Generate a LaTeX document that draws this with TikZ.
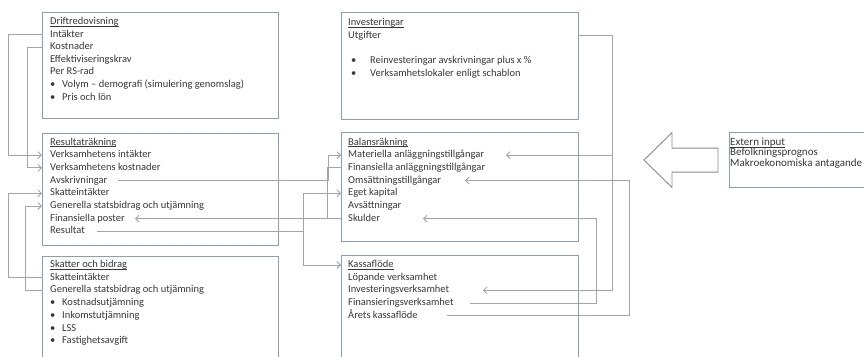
\documentclass[tikz,border=0pt]{standalone}
\usepackage{fontspec}
\setmainfont{Carlito}
\usetikzlibrary{arrows.meta}
\definecolor{boxblue}{RGB}{137,157,190}
\definecolor{linegray}{RGB}{165,165,165}
\definecolor{txtgray}{RGB}{55,55,55}
\definecolor{arrowgray}{RGB}{140,140,140}
\newcommand{\ulbox}[1]{\setbox0=\hbox{#1}\rlap{\rule[-1.8pt]{\wd0}{0.5pt}}\box0}
\def\leftlines{{22/dtit/\ulbox{Driftredovisning}}, 34.5/dint/Intäkter, 47.1/dkost/Kostnader,
  59.7/deff/Effektiviseringskrav, 72.3/drs/Per RS-rad,
  {142.5/rtit/\ulbox{Resultaträkning}}, 155.2/rvi/Verksamhetens intäkter,
  167.9/rvk/Verksamhetens kostnader, 180.6/ravs/Avskrivningar, 193.3/rskatt/Skatteintäkter,
  206/rgen/Generella statsbidrag och utjämning, 218.7/rfin/Finansiella poster, 231.4/rres/Resultat,
  {265/stit/\ulbox{Skatter och bidrag}}, 277.7/sskatt/Skatteintäkter,
  290.4/sgen/Generella statsbidrag och utjämning}
\def\leftitems{84.9/dvol/Volym – demografi (simulering genomslag), 97.5/dpris/Pris och lön,
  303.1/skost/Kostnadsutjämning, 315.8/sink/Inkomstutjämning, 328.5/slss/LSS, 341.2/sfast/Fastighetsavgift}
\def\midlines{{23/itit/\ulbox{Investeringar}}, 35.7/iutg/Utgifter,
  {142.5/btit/\ulbox{Balansräkning}}, 155.2/bmat/Materiella anläggningstillgångar,
  167.9/bfin/Finansiella anläggningstillgångar, 180.6/boms/Omsättningstillgångar,
  193.3/beget/Eget kapital, 206/bavs/Avsättningar, 218.7/bsku/Skulder,
  {265/ktit/\ulbox{Kassaflöde}}, 277.7/klop/Löpande verksamhet, 290.4/kinv/Investeringsverksamhet,
  303.1/kfin/Finansieringsverksamhet, 315.8/kar/Årets kassaflöde}
\def\miditems{61.1/irei/Reinvesteringar avskrivningar plus x \%, 73.8/ilok/Verksamhetslokaler enligt schablon}
\def\extlines{{142.7/etit/\ulbox{Extern input}}, 153.4/ebef/Befolkningsprognos, 164.1/emak/Makroekonomiska antagande}
\tikzstyle{box}=[draw=boxblue, line width=1.1pt, anchor=north west, inner sep=0pt]
\tikzstyle{txtline}=[anchor=west, inner sep=0pt, text height=7.5pt, text depth=2.5pt]
\tikzstyle{conn}=[draw=linegray, line width=0.9pt]
\tikzstyle{feed}=[conn, -{Straight Barb[length=3.5pt,width=7pt]}]
\tikzstyle{bigarrow}=[draw=arrowgray, fill=white, line width=0.9pt, line join=miter]

\begin{document}
\begin{tikzpicture}[x=1pt, y=-1pt, every node/.style={font=\fontsize{10.5}{12.7}\selectfont, text=txtgray}]
  \useasboundingbox (0,0) rectangle (864,356);
  \clip (0,0) rectangle (864,356);

  % First we draw the boxes
  \node[box, minimum width=236pt, minimum height=106pt] (drift) at (42,12) {};
  \node[box, minimum width=236pt, minimum height=112pt] (res) at (42,133) {};
  \node[box, minimum width=236pt, minimum height=124pt] (skb) at (42,256) {};
  \node[box, minimum width=237pt, minimum height=107pt] (inv) at (341,12) {};
  \node[box, minimum width=237pt, minimum height=109pt] (bal) at (341,132) {};
  \node[box, minimum width=237pt, minimum height=125pt] (kas) at (341,255) {};
  \node[box, minimum width=160pt, minimum height=55pt] (ext) at (729,132) {};

  % Then the text lines
  \foreach \y/\name/\txt in \leftlines
    \node[txtline] (\name) at (50,\y) {\txt};
  \foreach \y/\name/\txt in \leftitems {
    \node[txtline] (\name-b) at (50,\y) {•};
    \node[txtline] (\name) at (62,\y) {\txt};
  }
  \foreach \y/\name/\txt in \midlines
    \node[txtline] (\name) at (348,\y) {\txt};
  \foreach \y/\name/\txt in \miditems {
    \node[txtline] (\name-b) at (351,\y) {•};
    \node[txtline] (\name) at (370,\y) {\txt};
  }
  \foreach \y/\name/\txt in \extlines
    \node[txtline, font=\fontsize{11}{12}\selectfont] (\name) at (730,\y) {\txt};

  % The input arrow
  \coordinate (tip) at ([xshift=-85pt]ext.west);
  \draw[bigarrow] (tip) -- ++(28,-27.5) -- ++(0,15.5) -- ++(46,0) -- ++(0,24)
    -- ++(-46,0) -- ++(0,15.5) -- cycle;

  % Connect the left column
  \draw[feed] (drift.west |- dint) -- ++(-34,0) |- (res.west |- rvi);
  \draw[feed] (drift.west |- dkost) -- ++(-15,0) |- (res.west |- rvk);
  \draw[feed] (skb.west |- sskatt) -- ++(-34,0) |- (res.west |- rskatt);
  \draw[feed] (skb.west |- sgen) -- ++(-17,0) |- (res.west |- rgen);

  % Resultat to balans and kassaflode
  \draw[feed] ([xshift=10pt]ravs.east) -- ([xshift=-13pt]bal.west |- ravs) |- (bal.west |- bmat);
  \draw[feed] (bal.west |- bsku) -- ([xshift=10pt]rfin.east);
  \draw[conn] (bal.west |- bfin) -- ([xshift=-14pt]bal.west |- bfin) -- ([xshift=-14pt]bal.west |- bsku);
  \coordinate (rsplit) at ([xshift=-38pt]bal.west |- rres);
  \draw[feed] ([xshift=12pt]rres.east) -- (rsplit) |- (bal.west |- beget);
  \draw[feed] (rsplit) |- (kas.west |- ktit);

  % Right hand loops
  \draw[feed] (inv.east |- iutg) -- ++(33,0) |- ([xshift=142pt]kas.west |- kinv);
  \draw[feed] ([xshift=33pt]inv.east |- bmat) -- ([xshift=165pt]bal.west |- bmat);
  \draw[feed] ([xshift=106pt]kas.west |- kar) -- ([xshift=50pt]kas.east |- kar) |- ([xshift=124pt]bal.west |- boms);
  \draw[feed] ([xshift=129pt]kas.west |- kfin) -- ([xshift=17pt]kas.east |- kfin) |- ([xshift=82pt]bal.west |- bsku);
\end{tikzpicture}
\end{document}
